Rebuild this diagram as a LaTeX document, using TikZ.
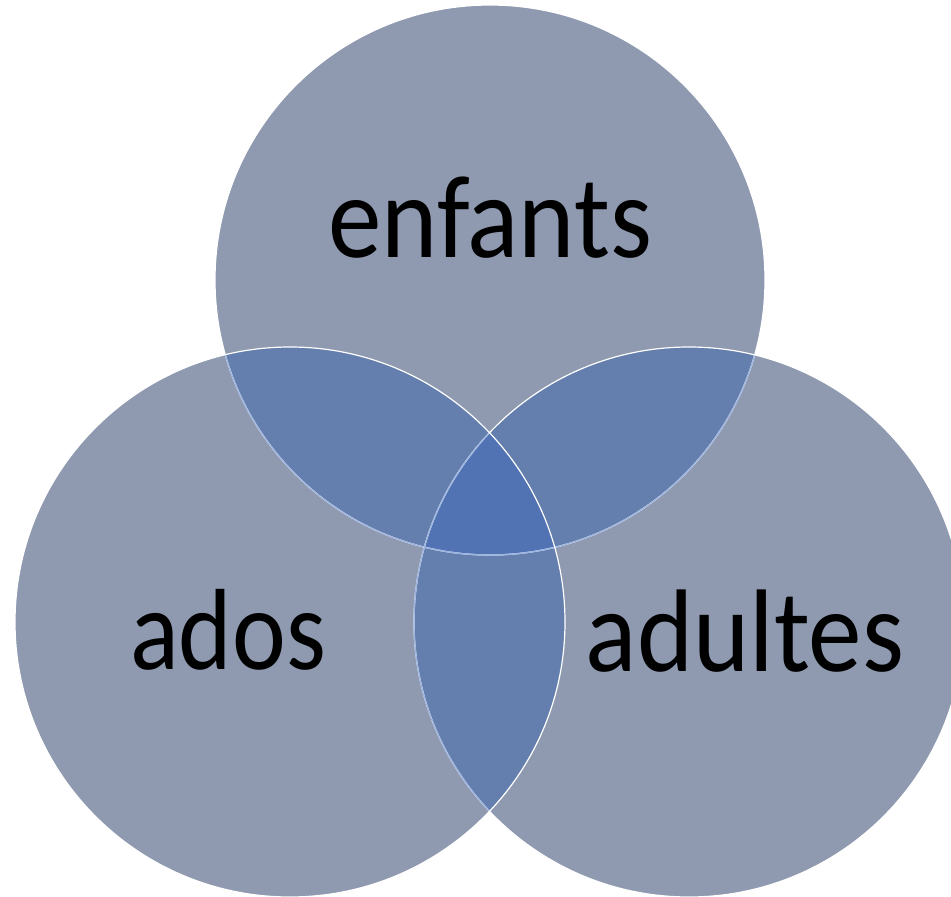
\documentclass[tikz,border=0pt]{standalone}
\usepackage{fontspec}
\setmainfont{Carlito}
\definecolor{vennone}{HTML}{8F9AB0}
\definecolor{venntwo}{HTML}{647FAD}
\definecolor{vennthree}{HTML}{5173B3}
\definecolor{vennline}{HTML}{9DB5E0}
\newcommand{\tallword}[1]{\scalebox{1.02}[1.12]{#1}}
\tikzset{
  rim/.style={draw=white, line width=1.2pt},
  rimhidden/.style={draw=vennline, line width=1.2pt},
  setlabel/.style={font=\fontsize{105}{120}\selectfont, text=black, inner sep=0pt, anchor=base}
}
\begin{document}
\begin{tikzpicture}[x=1pt,y=-1pt]
            \useasboundingbox (0,0) rectangle (951,897);
            \coordinate (E) at (490,280);
            \coordinate (A) at (290,622);
            \coordinate (D) at (689,622);

            % one set
            \fill[vennone] (E) circle (275pt) (A) circle (275pt) (D) circle (275pt);
            % two sets
            \begin{scope}
                \clip (E) circle (275pt);
                \fill[venntwo] (A) circle (275pt) (D) circle (275pt);
            \end{scope}
            \begin{scope}
                \clip (A) circle (275pt);
                \fill[venntwo] (D) circle (275pt);
            \end{scope}
            % all three
            \begin{scope}
                \clip (E) circle (275pt);
                \clip (A) circle (275pt);
                \fill[vennthree] (D) circle (275pt);
            \end{scope}

            % outlines, top first, left last
            \draw[rim] (E) circle (275pt);
            \begin{scope}
                \clip (A) circle (275pt);
                \draw[rimhidden] (E) circle (275pt);
            \end{scope}
            \begin{scope}
                \clip (D) circle (275pt);
                \draw[rimhidden] (E) circle (275pt);
            \end{scope}
            \draw[rim] (D) circle (275pt);
            \begin{scope}
                \clip (A) circle (275pt);
                \draw[rimhidden] (D) circle (275pt);
            \end{scope}
            \draw[rim] (A) circle (275pt);

            \node[setlabel] (enfants) at (490,257) {\tallword{enfants}};
            \node[setlabel] (ados) at (228,669) {\scalebox{0.97}[1.1]{ados}};
            \node[setlabel] (adultes) at (745,671) {\tallword{adultes}};
        \end{tikzpicture}
\end{document}
